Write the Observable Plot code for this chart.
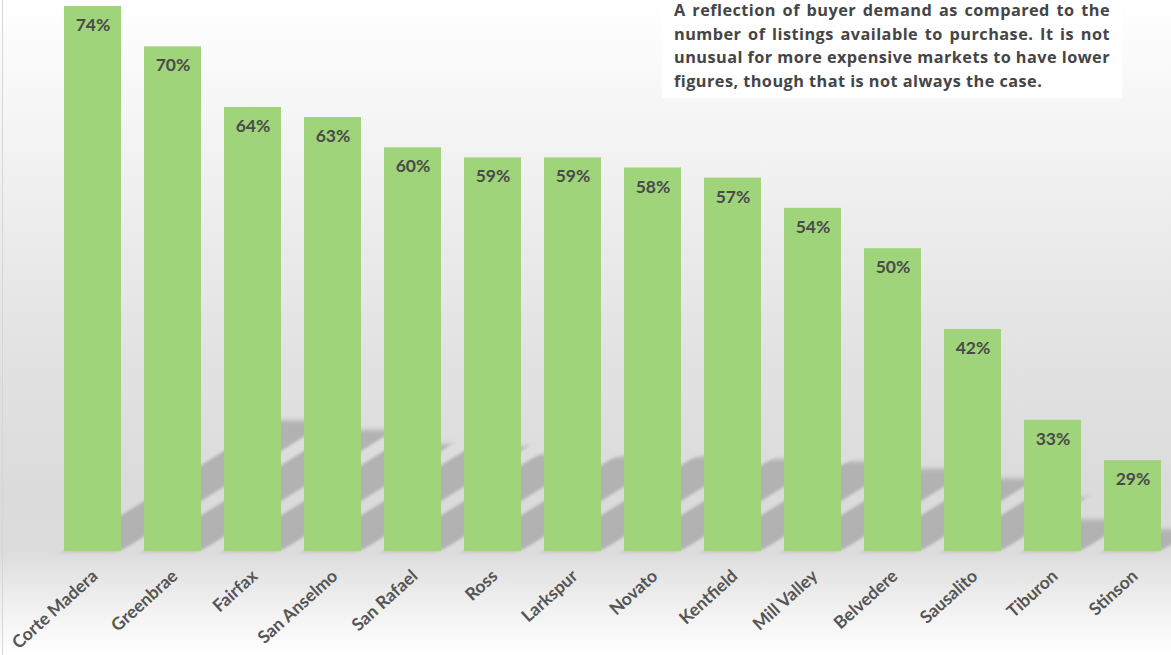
<!DOCTYPE html>
<html>
<head>
<meta charset="utf-8">
<script src="https://cdn.jsdelivr.net/npm/d3@7"></script>
<script src="https://cdn.jsdelivr.net/npm/@observablehq/plot@0.6"></script>
<style>
  html, body { margin: 0; padding: 0; background: #ffffff; }
  #wrap {
    position: relative; width: 1171px; height: 655px; overflow: hidden;
    background: linear-gradient(to bottom, #ffffff 0%, #f4f4f4 20%, #e4e4e4 50%, #dbdbdb 75%, #dcdcdc 84%, #efefef 92%, #ffffff 100%);
  }
  #edge { position: absolute; left: 2px; top: 0; width: 1px; height: 655px; background: #d6d6d6; }
  #note {
    position: absolute; left: 662px; top: -1px; width: 436px; height: 99px;
    padding: 0 12px; background: #ffffff; color: #454545;
    font-family: "Open Sans", Lato, sans-serif; font-weight: bold; font-size: 16.3px;
    letter-spacing: 0.45px; line-height: 23.5px;
  }
  #note .j { text-align: justify; text-align-last: justify; white-space: nowrap; }
  #note .l { text-align: left; white-space: nowrap; }
  svg { position: absolute; left: 0; top: 0; background: transparent; }
</style>
</head>
<body>
<div id="wrap">
  <div id="edge"></div>
  <div id="note">
    <div class="j">A reflection of buyer demand as compared to the</div>
    <div class="j">number of listings available to purchase. It is not</div>
    <div class="j">unusual for more expensive markets to have lower</div>
    <div class="l">figures, though that is not always the case.</div>
  </div>
</div>
<script>
const cities = ["Corte Madera","Greenbrae","Fairfax","San Anselmo","San Rafael","Ross","Larkspur","Novato","Kentfield","Mill Valley","Belvedere","Sausalito","Tiburon","Stinson"];
const values = [74,70,64,63,60,59,59,58,57,54,50,42,33,29];
const yMin = 20;
const yMax = 74;

const data = cities.map((c, i) => ({city: c, value: values[i]}));

function skewShadow(index, scales, vals, dims, context, next) {
  const g = next(index, scales, vals, dims, context);
  const b = scales.y(yMin);
  const outer = d3.create("svg:g")
    .attr("transform", `translate(0,${b}) skewX(-58) translate(0,${-b})`)
    .style("filter", "blur(2.5px)")
    .node();
  outer.appendChild(g);
  return outer;
}

const chart = Plot.plot({
  width: 1171,
  height: 655,
  marginTop: 6,
  marginBottom: 104,
  marginLeft: 55,
  marginRight: 2,
  style: {background: "transparent", overflow: "visible"},
  x: {domain: cities, paddingInner: 0.29, paddingOuter: 0.1, label: null},
  y: {domain: [yMin, yMax], axis: null},
  marks: [
    Plot.barY(data, {
      x: "city",
      y1: () => yMin,
      y2: d => yMin + 0.24 * (d.value - yMin),
      fill: "#b2b2b2",
      render: skewShadow
    }),
    Plot.barY(data, {x: "city", y1: () => yMin, y2: "value", fill: "#9fd47b"}),
    Plot.text(data, {
      x: "city", y: "value", text: d => d.value + "%", dy: 19,
      fill: "#4a4a4a", fontSize: 17.5, fontWeight: "bold",
      fontFamily: "Lato, 'Open Sans', sans-serif"
    }),
    Plot.axisX({
      tickSize: 0, tickPadding: 22, tickRotate: -42, dx: 2,
      fontSize: 17.5, fontWeight: "bold", fill: "#555555",
      fontFamily: "Lato, 'Open Sans', sans-serif", label: null
    })
  ]
});
document.getElementById("wrap").appendChild(chart);
</script>
</body>
</html>
